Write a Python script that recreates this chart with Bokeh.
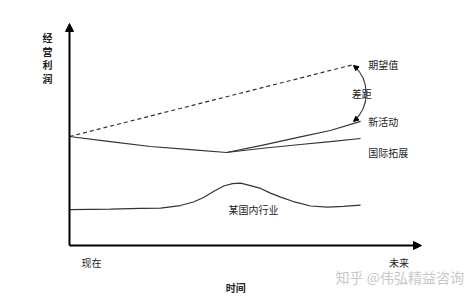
from bokeh.plotting import figure
from bokeh.models import Range1d, Arrow, NormalHead
from bokeh.core.properties import value
from bokeh.embed import file_html
from bokeh.resources import INLINE

# ---- data (time 0..10 = now..future, profit 0..10) ----
expected_t = [0.0, 8.07]
expected_v = [4.91, 8.15]

base_t = [0.0, 1.16, 2.30, 3.44, 4.46]
base_v = [4.91, 4.68, 4.46, 4.32, 4.19]

new_t = [4.46, 5.43, 6.56, 7.41, 8.27]
new_v = [4.19, 4.50, 4.89, 5.18, 5.59]

intl_t = [4.46, 5.43, 6.56, 7.41, 8.27]
intl_v = [4.19, 4.37, 4.55, 4.68, 4.82]

dom_t = [0.0, 1.16, 2.02, 2.59, 3.15, 3.52, 3.81, 4.09, 4.38, 4.63, 4.86,
         5.14, 5.43, 5.71, 6.00, 6.36, 6.85, 7.33, 7.78, 8.27]
dom_v = [1.62, 1.64, 1.67, 1.68, 1.80, 1.96, 2.16, 2.43, 2.68, 2.79, 2.81,
         2.70, 2.57, 2.36, 2.18, 1.98, 1.78, 1.73, 1.76, 1.82]

y_title = ["经", "营", "利", "润"]
x_ticks = ["现在", "未来"]
x_title = "时间"
series_labels = ["期望值", "新活动", "国际拓展", "某国内行业"]
gap_label = "差距"
watermark = "知乎 @伟弘精益咨询"

FONT = value("Noto Sans CJK SC")
INK = "#333333"

p = figure(width=474, height=296, x_range=Range1d(-1.96, 11.506),
           y_range=Range1d(-2.297, 11.036), output_backend="svg",
           toolbar_location=None, min_border=0,
           x_axis_location=None, y_axis_location=None)
p.grid.visible = False
p.outline_line_color = None
p.background_fill_color = "white"
p.border_fill_color = "white"

# axes as arrows
p.add_layout(Arrow(x_start=0, y_start=0, x_end=0, y_end=10, line_width=2,
                   line_color="black",
                   end=NormalHead(size=8, fill_color="black", line_color="black")))
p.add_layout(Arrow(x_start=0, y_start=0, x_end=10, y_end=0, line_width=2,
                   line_color="black",
                   end=NormalHead(size=8, fill_color="black", line_color="black")))

# series
p.line(expected_t, expected_v, line_color=INK, line_width=1.2, line_dash="4 3")
p.line(base_t, base_v, line_color=INK, line_width=1.2)
p.line(new_t, new_v, line_color=INK, line_width=1.2)
p.line(intl_t, intl_v, line_color=INK, line_width=1.2)
p.line(dom_t, dom_v, line_color=INK, line_width=1.2)

# gap arc between expected value and new activities
gx = expected_t[-1]
gy0 = expected_v[-1] - 0.04
gy1 = new_v[-1]
p.bezier(x0=[gx], y0=[gy0], x1=[gx], y1=[gy1],
         cx0=[gx + 0.48], cy0=[gy0 - 0.68], cx1=[gx + 0.48], cy1=[gy1 + 0.68],
         line_color=INK, line_width=1.1)
p.add_layout(Arrow(x_start=gx + 0.09, y_start=gy0 - 0.12, x_end=gx, y_end=gy0,
                   line_width=1, line_color=INK,
                   end=NormalHead(size=5, fill_color="black", line_color="black")))
p.add_layout(Arrow(x_start=gx + 0.09, y_start=gy1 + 0.12, x_end=gx, y_end=gy1,
                   line_width=1, line_color=INK,
                   end=NormalHead(size=5, fill_color="black", line_color="black")))

# y title, stacked vertically
p.text(x=[-0.625] * 4, y=[9.37, 8.74, 8.15, 7.52], text=y_title,
       text_font=FONT, text_font_size="10px", text_font_style="bold",
       text_align="center", text_baseline="middle", text_color="#222222")

# series labels
p.text(x=[8.49, 8.49, 8.49, 5.23], y=[8.15, 5.59, 4.19, 1.62], text=series_labels,
       text_font=FONT, text_font_size="10px",
       text_align=["left", "left", "left", "center"], text_baseline="middle",
       text_color="#222222")
p.text(x=[8.30], y=[6.85], text=[gap_label], text_font=FONT, text_font_size="10px",
       text_align="center", text_baseline="middle", text_color="#222222")

# x tick labels and title
p.text(x=[0.625, 9.36], y=[-0.77, -0.77], text=x_ticks, text_font=FONT,
       text_font_size="10px", text_align="center", text_baseline="middle",
       text_color="#222222")
p.text(x=[4.72], y=[-1.89], text=[x_title], text_font=FONT, text_font_size="10px",
       text_font_style="bold", text_align="center", text_baseline="middle",
       text_color="#222222")

# watermark
p.text(x=[7.56], y=[-1.44], text=[watermark], text_font=FONT, text_font_size="14px",
       text_align="left", text_baseline="middle", text_color="#c8c8c8")

open("out.html", "w").write(file_html(p, INLINE))
